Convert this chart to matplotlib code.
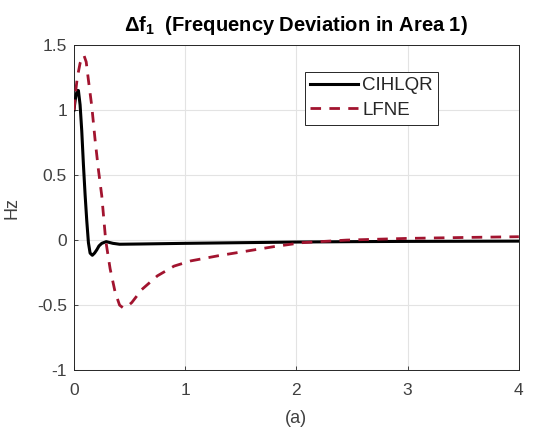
import numpy as np
import matplotlib
matplotlib.use('Agg')
import matplotlib.pyplot as plt

# values
t_cihlqr = [0, 0.01, 0.02, 0.03, 0.04, 0.055, 0.07, 0.085, 0.10, 0.115, 0.13, 0.145,
            0.165, 0.185, 0.205, 0.225, 0.25, 0.29, 0.35, 0.41, 0.6, 1.0, 1.5, 2.0,
            2.5, 3.0, 3.5, 4.0]
f_cihlqr = [1.0, 1.07, 1.12, 1.15, 1.15, 1.04, 0.84, 0.58, 0.35, 0.15, -0.02, -0.10,
            -0.117, -0.10, -0.075, -0.045, -0.025, -0.012, -0.025, -0.032, -0.03, -0.025,
            -0.02, -0.015, -0.012, -0.01, -0.009, -0.008]

t_lfne = [0, 0.015, 0.03, 0.055, 0.075, 0.09, 0.11, 0.13, 0.16, 0.19, 0.22, 0.25, 0.285,
          0.325, 0.37, 0.41, 0.44, 0.48, 0.52, 0.61, 0.75, 0.9, 1.05, 1.3, 1.55, 1.8,
          2.05, 2.45, 3.0, 3.5, 4.0]
f_lfne = [1.0, 1.14, 1.25, 1.36, 1.40, 1.42, 1.37, 1.23, 1.03, 0.77, 0.54, 0.34, 0.0,
          -0.22, -0.40, -0.50, -0.52, -0.51, -0.48, -0.38, -0.275, -0.2, -0.16, -0.12,
          -0.085, -0.05, -0.02, 0.0, 0.013, 0.02, 0.026]

x_ticks = [0, 1, 2, 3, 4]
y_ticks = [-1, -0.5, 0, 0.5, 1, 1.5]
y_ticklabels = ['-1', '-0.5', '0', '0.5', '1', '1.5']

plt.rcParams['font.family'] = ['Liberation Sans', 'DejaVu Sans']
plt.rcParams['mathtext.fontset'] = 'custom'
plt.rcParams['mathtext.rm'] = 'Liberation Sans'
plt.rcParams['mathtext.bf'] = 'Liberation Sans:bold'

axcol = '#262626'
fig = plt.figure(figsize=(5.36, 4.37), dpi=100)
ax = fig.add_axes([0.138, 0.153, 0.830, 0.744])

ax.plot(t_cihlqr, f_cihlqr, color='black', lw=2.2, label='CIHLQR', zorder=3)
ax.plot(t_lfne, f_lfne, color='#A2142F', lw=2.0, linestyle=(0, (3.8, 3)),
        label='LFNE', zorder=4)

ax.set_xlim(0, 4)
ax.set_ylim(-1, 1.5)
ax.set_xticks(x_ticks)
ax.set_yticks(y_ticks)
ax.set_yticklabels(y_ticklabels)
ax.grid(True, color='#e3e3e3', lw=0.8)
ax.set_axisbelow(True)
ax.tick_params(direction='in', length=3, width=0.6, colors=axcol,
               labelsize=12.5, labelcolor='#404040', top=False, right=False)
ax.tick_params(axis='x', pad=9)
ax.tick_params(axis='y', pad=5)
for s in ax.spines.values():
    s.set_color(axcol)
    s.set_linewidth(0.7)

ax.set_title(r'$\mathbf{\Delta f_1}$  (Frequency Deviation in Area 1)',
             fontsize=14.5, fontweight='bold', color='black', pad=10)
ax.set_xlabel('(a)', fontsize=13, color='#404040', labelpad=9)
ax.set_ylabel('Hz', fontsize=13, color='#404040', labelpad=12)

leg = ax.legend(loc='upper left', bbox_to_anchor=(0.519, 0.918), borderaxespad=0,
                fontsize=13.5, handlelength=2.55, handletextpad=0.2, borderpad=0.3,
                labelspacing=0.4, fancybox=False, framealpha=1)
leg.get_frame().set_edgecolor(axcol)
leg.get_frame().set_linewidth(0.7)
for txt in leg.get_texts():
    txt.set_color('#262626')

fig.savefig('out.png', dpi=100)
